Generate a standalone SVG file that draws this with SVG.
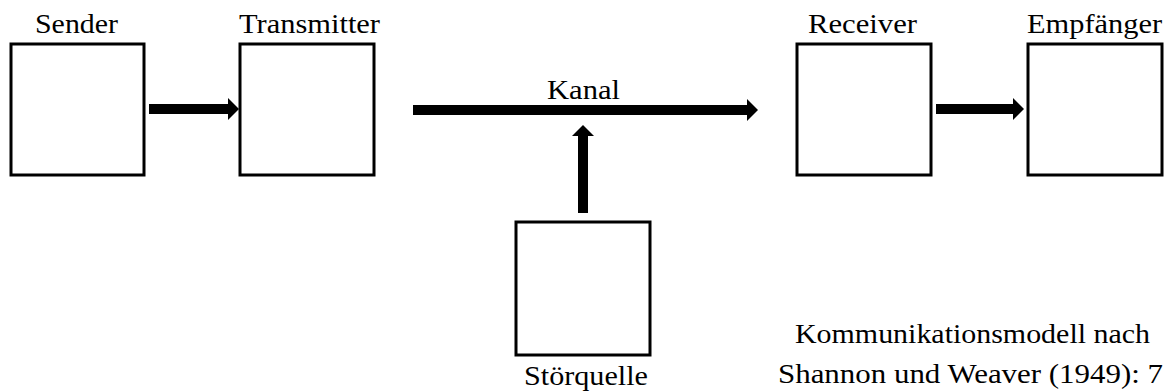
<svg xmlns="http://www.w3.org/2000/svg" width="1168" height="392" viewBox="0 0 1168 392">
<style>
.box{fill:#fff;stroke:#000;stroke-width:3}
.lbl{font-family:"Liberation Serif","Times New Roman",serif;font-size:28px;fill:#000}
.conn{stroke:#000;stroke-width:10;fill:none}
</style>
<defs>
<marker id="ah" viewBox="0 0 11 22" refX="0" refY="11" markerWidth="11" markerHeight="22" markerUnits="userSpaceOnUse" orient="auto">
<path d="M0,0 L11,11 L0,22 Z" fill="#000"/>
</marker>
</defs>
<rect width="1168" height="392" fill="#fff"/>
<g id="sender">
<rect class="box" x="11" y="44" width="133" height="131"/>
<text class="lbl" x="35" y="33" textLength="83" lengthAdjust="spacingAndGlyphs">Sender</text>
</g>
<g id="transmitter">
<rect class="box" x="240" y="44" width="134" height="131"/>
<text class="lbl" x="239" y="33" textLength="141" lengthAdjust="spacingAndGlyphs">Transmitter</text>
</g>
<g id="receiver">
<rect class="box" x="797" y="44" width="134" height="131"/>
<text class="lbl" x="808" y="33" textLength="109" lengthAdjust="spacingAndGlyphs">Receiver</text>
</g>
<g id="empfaenger">
<rect class="box" x="1028" y="44" width="134" height="131"/>
<text class="lbl" x="1027" y="33" textLength="135" lengthAdjust="spacingAndGlyphs">Empfänger</text>
</g>
<g id="stoerquelle">
<rect class="box" x="516" y="222" width="134" height="133"/>
<text class="lbl" x="524" y="385" textLength="124" lengthAdjust="spacingAndGlyphs">Störquelle</text>
</g>
<g id="caption">
<text class="lbl" x="795" y="343" textLength="355" lengthAdjust="spacingAndGlyphs">Kommunikationsmodell nach</text>
<text class="lbl" x="778" y="383" textLength="385" lengthAdjust="spacingAndGlyphs">Shannon und Weaver (1949): 7</text>
</g>
<g id="connectors">
<line class="conn" x1="149" y1="109" x2="228" y2="109" marker-end="url(#ah)"/>
<line class="conn" x1="413" y1="110" x2="747" y2="110" marker-end="url(#ah)"/>
<text class="lbl" x="547" y="99" textLength="73" lengthAdjust="spacingAndGlyphs">Kanal</text>
<line class="conn" x1="583" y1="213" x2="583" y2="136" marker-end="url(#ah)"/>
<line class="conn" x1="936" y1="109" x2="1013" y2="109" marker-end="url(#ah)"/>
</g>
</svg>
